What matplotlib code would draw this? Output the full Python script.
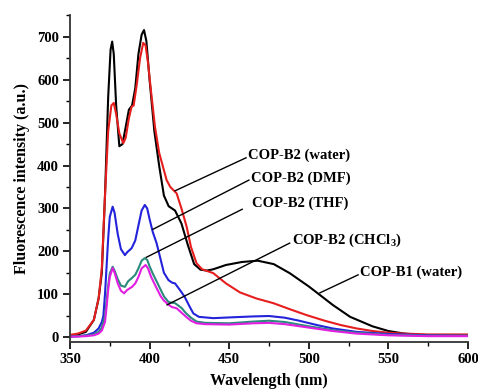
import numpy as np
import matplotlib
matplotlib.use("Agg")
import matplotlib.pyplot as plt
from matplotlib.ticker import MultipleLocator

# spectra ---------------------------------------------------------------------#
wl_b1 = [350, 355, 360, 365, 368, 370, 372, 374, 375.5, 376.5, 377.5, 379, 381, 383, 385, 387,
         389, 391, 393, 395, 396.5, 398, 400, 403, 406, 409, 412, 416, 420, 424, 428, 432, 436,
         440, 448, 458, 468, 478, 488, 500, 507, 515, 526, 540, 550, 560, 570, 580, 590, 600]
int_b1 = [3, 6, 12, 40, 90, 150, 330, 560, 670, 689, 660, 540, 445, 450, 490, 530,
          540, 580, 660, 705, 716, 690, 600, 480, 400, 330, 305, 295, 265, 215, 170, 157, 155,
          158, 168, 175, 178, 170, 149, 118, 98, 75, 47, 25, 14, 8, 5, 4, 3, 3]

wl_b2_water = [350, 355, 360, 365, 368, 370, 372, 374, 376, 377.5, 379, 381, 383.5, 385, 387,
               388.7, 390, 392, 394, 396, 397.5, 399, 401, 403.4, 406, 410.7, 413, 417, 420,
               423.3, 426, 429.5, 433, 440, 448, 456.8, 467, 477.7, 488, 498.7, 510, 520, 530,
               540, 550, 560, 575, 600]
int_b2_water = [5, 8, 15, 40, 90, 160, 330, 480, 540, 546, 520, 475, 452, 465, 510,
                537, 540, 590, 650, 686, 680, 640, 570, 490, 430, 366, 350, 335, 300,
                257, 210, 172, 158, 149, 125, 104, 90, 79, 65, 51, 38, 28, 20,
                14, 10, 8, 6, 6]

wl_b2_dmf = [350, 355, 360, 365, 368, 370, 371, 372, 373, 374, 375, 376.8, 378, 380, 382, 384.5,
             386, 388.7, 391, 393, 395, 397, 398.5, 400, 402, 404.4, 407, 409, 411.8, 414, 416,
             419, 422, 425, 427.5, 431, 440, 452, 465, 475, 485, 494, 505, 515, 530, 550, 575, 600]
int_b2_dmf = [1, 2, 4, 10, 20, 35, 50, 100, 165, 230, 280, 304, 290, 240, 205, 191,
              198, 207, 225, 260, 295, 308, 300, 275, 245, 219, 180, 150, 133, 127, 125,
              110, 94, 72, 55, 47, 44, 46, 48, 49, 45, 38, 28, 20, 12, 7, 4, 3]

wl_b2_thf = [350, 355, 360, 365, 368, 370, 372, 373, 374, 375, 376.8, 378, 380, 382, 384.5,
             386.5, 388.7, 391, 393, 395, 397, 398.5, 400, 402, 404, 407, 409, 411.8, 414, 416,
             420, 423, 426, 429.5, 435, 450, 465, 475, 485, 500, 515, 530, 550, 575, 600]
int_b2_thf = [1, 2, 3, 6, 12, 22, 50, 85, 120, 148, 164, 155, 135, 120, 117,
              130, 137, 145, 160, 178, 184, 180, 165, 148, 133, 110, 95, 82, 80, 79,
              68, 55, 45, 36, 33, 32, 36, 38, 35, 25, 16, 10, 5, 3, 3]

wl_b2_chcl3 = [350, 355, 360, 365, 368, 370, 372, 373, 374, 375, 376.8, 378, 380, 382, 384,
               386, 389, 391, 393, 395, 397.5, 399, 401, 404, 407, 409, 412, 414, 417, 420,
               423, 426, 429.5, 435, 450, 465, 475, 485, 500, 515, 530, 550, 575, 600]
int_b2_chcl3 = [1, 1, 2, 4, 8, 15, 35, 70, 110, 140, 161, 150, 125, 108, 102,
                110, 117, 125, 140, 160, 168, 160, 140, 117, 95, 85, 75, 70, 67, 57,
                47, 38, 32, 30, 29, 32, 33, 30, 22, 14, 8, 4, 2, 2]

# labels: text, curve point, line end, text anchor (data coords)
labels = ["COP-B2 (water)", "COP-B2 (DMF)", "COP-B2 (THF)", "COP-B2 (CHCl$_3$)", "COP-B1 (water)"]
arrow_from = [(416, 341), (402, 251), (398, 186), (411, 75), (507, 103)]
arrow_to = [(460.6, 418), (462.4, 366), (458.2, 298), (488, 219), (531, 145)]
text_at = [(461.8, 425), (463.7, 371), (464.3, 313), (489.4, 226), (532, 150)]

plt.rcParams['font.family'] = ['Liberation Serif', 'DejaVu Serif']
plt.rcParams['font.weight'] = 'bold'
plt.rcParams['mathtext.fontset'] = 'custom'
plt.rcParams['mathtext.rm'] = 'Liberation Serif:bold'

fig = plt.figure(figsize=(4.78, 3.91), dpi=100)
ax = fig.add_axes([0.1464, 0.126, 0.8326, 0.8356])

ax.plot(wl_b1, int_b1, color='black', lw=1.5)
ax.plot(wl_b2_water, int_b2_water, color='#e61e1e', lw=1.5)
ax.plot(wl_b2_dmf, int_b2_dmf, color='#2323dc', lw=1.5)
ax.plot(wl_b2_thf, int_b2_thf, color='#2a8a7c', lw=1.5)
ax.plot(wl_b2_chcl3, int_b2_chcl3, color='#e21ee2', lw=1.5)

for txt, p0, p1, pt in zip(labels, arrow_from, arrow_to, text_at):
    ax.plot([p0[0], p1[0]], [p0[1], p1[1]], color='black', lw=1.0)
    ax.text(pt[0], pt[1], txt, fontsize=10.5, fontweight='bold', ha='left', va='center')

ax.set_xlim(350, 600)
ax.set_ylim(-11, 751)
ax.xaxis.set_major_locator(MultipleLocator(50))
ax.xaxis.set_minor_locator(MultipleLocator(25))
ax.yaxis.set_major_locator(MultipleLocator(100))
ax.yaxis.set_minor_locator(MultipleLocator(50))
ax.spines['top'].set_visible(False)
ax.spines['right'].set_visible(False)
for s in ('left', 'bottom'):
    ax.spines[s].set_linewidth(1.3)
    ax.spines[s].set_color('#333333')
ax.tick_params(which='major', direction='out', length=5, width=1.2, labelsize=10.5, pad=3)
ax.tick_params(which='minor', direction='out', length=3, width=1.0)
for lab in ax.get_xticklabels() + ax.get_yticklabels():
    lab.set_fontweight('bold')

ax.set_xlabel('Wavelength (nm)', fontsize=11.5, fontweight='bold', labelpad=5)
ax.set_ylabel('Fluorescence intensity (a.u.)', fontsize=11.5, fontweight='bold', labelpad=5)

fig.savefig('out.png', dpi=100)
